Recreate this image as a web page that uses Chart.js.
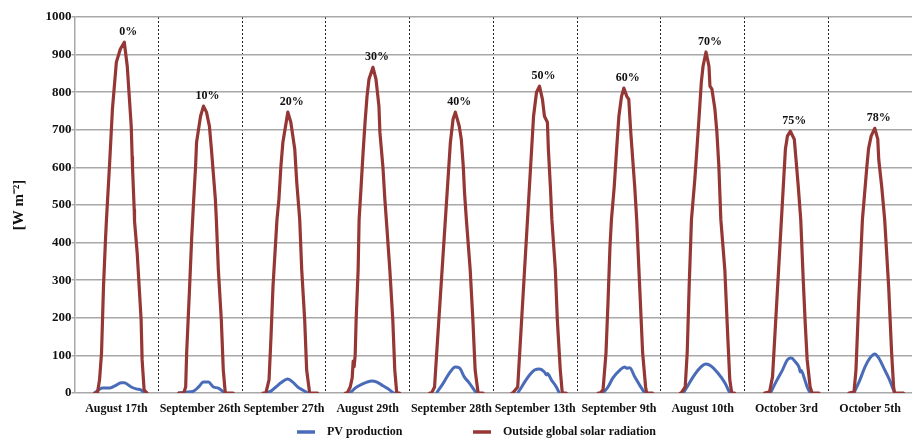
<!DOCTYPE html>
<html>
<head>
<meta charset="utf-8">
<script src="https://cdn.jsdelivr.net/npm/chart.js@4.4.1/dist/chart.umd.min.js"></script>
<style>
  html, body { margin: 0; padding: 0; background: #ffffff; overflow: hidden; }
  #wrap { position: relative; width: 921px; height: 438px; }
</style>
</head>
<body>
<div id="wrap"><canvas id="chart" width="921" height="438"></canvas></div>
<script>
// Measurement days, one panel per day
const days = ['August 17th', 'September 26th', 'September 27th', 'August 29th', 'September 28th',
              'September 13th', 'September 9th', 'August 10th', 'October 3rd', 'October 5th'];

// Share labels written above each day's radiation peak
const coverLabels = ['0%', '10%', '20%', '30%', '40%', '50%', '60%', '70%', '75%', '78%'];

const yTicks = [0, 100, 200, 300, 400, 500, 600, 700, 800, 900, 1000];

// Outside global solar radiation [W m-2]: hour of day and value, per day
const radHours = [
  [5.76, 6.61, 7.18, 7.75, 8.31, 8.88, 9.16, 10.02, 10.87, 12.00, 13.14, 14.27, 15.12, 16.26, 16.54, 16.60, 16.65, 17.11, 17.20, 17.96, 19.09, 19.38, 19.95, 20.80],
  [5.87, 7.29, 7.86, 8.14, 8.99, 9.56, 10.13, 10.70, 10.98, 12.12, 12.97, 13.82, 14.67, 15.24, 16.37, 16.65, 17.22, 18.07, 18.64, 19.21, 21.48],
  [6.04, 6.89, 7.75, 8.31, 8.88, 9.73, 10.02, 10.58, 11.15, 11.72, 13.14, 13.99, 15.12, 15.69, 16.54, 17.11, 17.96, 18.53, 19.38, 21.65],
  [5.59, 6.16, 7.01, 7.58, 7.86, 8.14, 8.43, 8.71, 9.28, 9.56, 10.13, 10.70, 11.26, 11.83, 12.40, 13.53, 14.39, 15.24, 15.52, 16.37, 16.94, 17.36, 18.36, 19.21, 19.78, 20.34, 21.19],
  [5.76, 6.33, 7.18, 7.75, 11.72, 12.48, 13.14, 14.27, 14.84, 15.41, 15.77, 16.30, 17.39, 18.16, 18.81, 19.66, 21.08],
  [5.31, 5.59, 7.01, 7.29, 11.55, 12.40, 13.25, 14.10, 14.67, 15.52, 15.80, 16.37, 16.80, 17.79, 18.36, 19.21, 19.78, 20.91],
  [6.04, 6.61, 7.46, 8.31, 8.88, 9.45, 9.87, 10.67, 11.35, 12.00, 12.77, 13.42, 14.27, 14.84, 15.41, 15.97, 16.54, 17.11, 17.96, 18.81, 19.66, 19.95, 21.65],
  [5.59, 5.87, 7.01, 7.58, 8.14, 8.80, 9.78, 10.41, 11.00, 11.63, 12.12, 12.97, 13.82, 14.10, 14.67, 15.52, 16.09, 16.65, 17.22, 18.36, 19.21, 19.78, 20.34, 21.19],
  [5.76, 7.18, 8.03, 11.72, 12.29, 13.14, 14.27, 14.84, 15.41, 16.12, 16.83, 17.39, 17.96, 18.81, 19.38, 21.36],
  [5.96, 7.38, 7.94, 8.71, 9.79, 11.07, 11.55, 12.29, 13.34, 14.19, 14.47, 15.32, 16.17, 17.31, 18.16, 18.73, 19.01, 21.56]
];
const radValues = [
  [0, 2, 35, 107, 283, 408, 461, 603, 755, 880, 915, 933, 869, 709, 621, 628, 600, 488, 458, 373, 195, 88, 8, 0],
  [0, 0, 16, 107, 283, 408, 510, 603, 667, 736, 763, 747, 709, 648, 515, 461, 328, 195, 61, 0, 0],
  [0, 2, 35, 149, 283, 416, 461, 515, 603, 667, 747, 720, 648, 560, 461, 328, 195, 61, 0, 0],
  [0, 0, 16, 40, 85, 70, 100, 195, 328, 461, 549, 640, 720, 789, 835, 866, 835, 763, 693, 603, 515, 461, 328, 195, 61, 0, 0],
  [0, 0, 16, 100, 667, 728, 747, 709, 675, 603, 533, 461, 328, 195, 61, 0, 0],
  [0, 0, 16, 61, 736, 800, 816, 781, 736, 720, 648, 549, 461, 328, 195, 61, 0, 0],
  [0, 0, 8, 107, 240, 389, 461, 549, 648, 736, 789, 811, 789, 781, 693, 621, 549, 461, 283, 107, 16, 0, 0],
  [0, 0, 16, 107, 283, 461, 570, 655, 736, 827, 869, 907, 869, 816, 808, 755, 693, 603, 461, 328, 149, 35, 0, 0],
  [0, 3, 43, 648, 683, 696, 675, 613, 549, 461, 301, 187, 88, 16, 0, 0],
  [0, 3, 61, 240, 461, 603, 650, 683, 704, 675, 621, 549, 461, 283, 107, 16, 0, 0]
];

// PV production [W m-2]: hour of day and value, per day
const pvHours = [
  [5.76, 7.18, 8.03, 10.02, 11.43, 13.42, 14.27, 16.26, 17.68, 19.09, 19.95],
  [5.87, 7.86, 10.13, 11.55, 12.97, 14.38, 15.80, 17.22, 18.64, 19.21],
  [6.89, 8.31, 9.73, 11.15, 13.14, 14.55, 15.97, 17.39, 18.81],
  [7.01, 8.43, 9.85, 11.83, 13.25, 14.67, 16.09, 17.50, 19.49],
  [7.75, 9.73, 11.43, 13.14, 14.27, 15.69, 17.11, 18.53, 19.09],
  [7.01, 8.14, 8.99, 10.41, 11.83, 13.25, 14.67, 15.24, 15.52, 16.65, 18.07, 18.92],
  [7.46, 8.88, 10.30, 12.29, 13.70, 14.27, 15.12, 16.54, 17.96, 19.38],
  [6.44, 7.86, 9.28, 11.26, 12.97, 14.39, 16.37, 18.36, 19.78],
  [7.46, 8.88, 10.87, 12.29, 13.42, 14.55, 15.69, 15.97, 16.26, 17.11, 17.96, 18.81],
  [7.38, 9.08, 10.50, 11.92, 13.34, 14.47, 15.89, 17.31, 18.16, 19.01]
];
const pvValues = [
  [0, 10, 13, 13, 18, 27, 27, 16, 11, 8, 0],
  [0, 2, 5, 16, 29, 29, 16, 13, 3, 0],
  [0, 5, 16, 27, 37, 29, 16, 8, 0],
  [0, 13, 21, 29, 32, 29, 21, 13, 0],
  [0, 27, 53, 69, 67, 43, 27, 8, 0],
  [0, 16, 29, 48, 61, 64, 56, 48, 52, 35, 16, 0],
  [0, 16, 40, 61, 69, 66, 67, 43, 21, 0],
  [0, 21, 43, 67, 77, 72, 53, 27, 0],
  [0, 27, 61, 88, 93, 83, 67, 56, 60, 40, 16, 0],
  [0, 35, 69, 93, 104, 93, 67, 40, 21, 0]
];

const SERIF = '"Liberation Serif", "Times New Roman", serif';
const RED = '#953735';
const BLUE = '#4a6cb8';

// Each day occupies one unit on the x axis; a null point breaks the line between days
function buildSeries(hours, values) {
  const pts = [];
  hours.forEach((hs, d) => {
    hs.forEach((h, k) => pts.push({ x: d + h / 24, y: values[d][k] }));
    pts.push({ x: d + 1, y: null });
  });
  return pts;
}

// Share labels above the highest radiation point of each day
const peakLabels = {
  id: 'peakLabels',
  afterDatasetsDraw(chart) {
    const { ctx, scales: { x, y } } = chart;
    const pts = chart.data.datasets[0].data;
    ctx.save();
    ctx.font = 'bold 12px ' + SERIF;
    ctx.fillStyle = '#111111';
    ctx.textAlign = 'center';
    ctx.textBaseline = 'middle';
    coverLabels.forEach((text, d) => {
      let best = null;
      pts.forEach(p => {
        if (p.y !== null && p.x >= d && p.x < d + 1 && (!best || p.y > best.y)) best = p;
      });
      if (best) ctx.fillText(text, x.getPixelForValue(best.x) + 4, y.getPixelForValue(best.y) - 10);
    });
    ctx.restore();
  }
};

// Legend row under the day labels
const legendRow = {
  id: 'legendRow',
  afterDraw(chart) {
    const ctx = chart.ctx;
    const ds = chart.data.datasets;
    const items = [{ d: ds[1], x: 297 }, { d: ds[0], x: 473 }];
    const yMid = 432;
    ctx.save();
    ctx.font = 'bold 12px ' + SERIF;
    ctx.textBaseline = 'middle';
    ctx.textAlign = 'left';
    items.forEach(it => {
      ctx.strokeStyle = it.d.borderColor;
      ctx.lineWidth = 3.5;
      ctx.lineCap = 'butt';
      ctx.beginPath();
      ctx.moveTo(it.x, yMid);
      ctx.lineTo(it.x + 18, yMid);
      ctx.stroke();
      ctx.fillStyle = '#111111';
      ctx.fillText(it.d.label, it.x + 30, yMid);
    });
    ctx.restore();
  }
};

new Chart(document.getElementById('chart'), {
  type: 'line',
  data: {
    datasets: [
      {
        label: 'Outside global solar radiation',
        data: buildSeries(radHours, radValues),
        borderColor: RED,
        borderWidth: 3.2,
        tension: 0,
        spanGaps: false,
        pointRadius: 0,
        borderJoinStyle: 'round',
        borderCapStyle: 'round'
      },
      {
        label: 'PV production',
        data: buildSeries(pvHours, pvValues),
        borderColor: BLUE,
        borderWidth: 3,
        cubicInterpolationMode: 'monotone',
        spanGaps: false,
        pointRadius: 0,
        borderJoinStyle: 'round',
        borderCapStyle: 'round'
      }
    ]
  },
  options: {
    responsive: false,
    animation: false,
    events: [],
    layout: { padding: { top: 17, right: 0, bottom: 0, left: 0 } },
    plugins: { legend: { display: false }, tooltip: { enabled: false } },
    scales: {
      x: {
        type: 'linear',
        min: 0,
        max: 10,
        afterBuildTicks: s => {
          const t = [];
          for (let i = 0; i <= 20; i++) t.push({ value: i / 2 });
          s.ticks = t;
        },
        afterFit: s => { s.height = 45; },
        grid: {
          color: c => {
            const v = c.tick ? c.tick.value : 0;
            return (Number.isInteger(v) && v > 0 && v < 10) ? '#222222' : 'rgba(0,0,0,0)';
          },
          lineWidth: 1,
          drawTicks: false
        },
        border: { display: false, dash: [2, 2] },
        ticks: {
          autoSkip: false,
          maxRotation: 0,
          minRotation: 0,
          padding: 9,
          color: '#111111',
          font: { family: SERIF, weight: 'bold', size: 12 },
          callback: v => Number.isInteger(v) ? '' : days[Math.floor(v)]
        }
      },
      y: {
        min: 0,
        max: 1000,
        afterBuildTicks: s => { s.ticks = yTicks.map(v => ({ value: v })); },
        afterFit: s => { s.width = 74.5; },
        grid: { color: '#a8a8a8', lineWidth: 1.5, tickLength: 3, drawTicks: true },
        border: { display: true, color: '#a8a8a8', width: 1.5 },
        ticks: {
          padding: 0,
          color: '#111111',
          font: { family: SERIF, weight: 'bold', size: 13 },
          callback: v => String(v)
        },
        title: {
          display: true,
          text: '[W m\u207B\u00B2]',
          color: '#111111',
          font: { family: SERIF, weight: 'bold', size: 15 },
          padding: { top: 10, bottom: 0 }
        }
      }
    }
  },
  plugins: [peakLabels, legendRow]
});
</script>
</body>
</html>
